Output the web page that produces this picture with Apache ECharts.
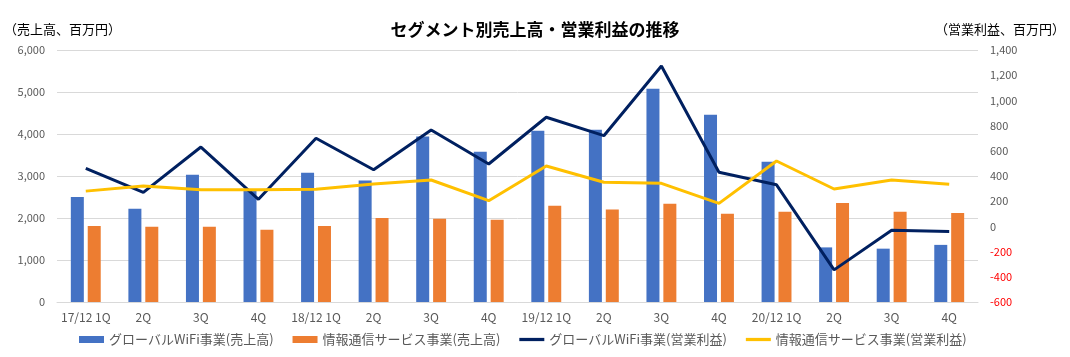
<!DOCTYPE html>
<html><head><meta charset="utf-8">
<script src="https://cdn.jsdelivr.net/npm/echarts@6/dist/echarts.min.js"></script>
<style>html,body{margin:0;padding:0;background:#fff}#c{width:1070px;height:357px}</style>
</head><body><div id="c"></div>
<script>
const categories = ["17/12 1Q","2Q","3Q","4Q","18/12 1Q","2Q","3Q","4Q","19/12 1Q","2Q","3Q","4Q","20/12 1Q","2Q","3Q","4Q"];
const wifiSales = [2500,2220,3030,2650,3080,2890,3940,3580,4080,4100,5080,4460,3340,1300,1270,1360];
const infoSales = [1810,1790,1790,1720,1810,2000,1980,1960,2290,2200,2340,2100,2150,2360,2150,2120];
const wifiProfit = [460,270,630,215,700,450,765,495,866,720,1273,430,330,-345,-30,-40];
const infoProfit = [280,320,290,290,295,336,368,204,479,350,342,183,519,297,368,334];
const seriesNames = ["グローバルWiFi事業(売上高)","情報通信サービス事業(売上高)","グローバルWiFi事業(営業利益)","情報通信サービス事業(営業利益)"];

const FONT = '"Noto Sans CJK JP", "Noto Sans", sans-serif';
const chart = echarts.init(document.getElementById('c'), null, {renderer:'canvas'});
const fmt = v => v.toLocaleString('en-US');
const lineIcon = 'path://M0 0H100V13H0Z';
chart.setOption({
  animation:false,
  textStyle:{fontFamily:FONT},
  title:{text:'セグメント別売上高・営業利益の推移', left:'center', top:16,
    textStyle:{fontFamily:FONT,fontSize:17,fontWeight:'bold',color:'#000'}},
  grid:{left:57,right:92,top:50,bottom:55,containLabel:false},
  legend:{bottom:6,left:74,itemWidth:25,itemHeight:7,itemGap:19,
    textStyle:{fontFamily:FONT,fontSize:13,color:'#595959'},
    data:[{name:seriesNames[0],icon:'rect'},{name:seriesNames[1],icon:'rect'},
          {name:seriesNames[2],icon:lineIcon},{name:seriesNames[3],icon:lineIcon}]},
  xAxis:{type:'category',data:categories,
    axisLine:{lineStyle:{color:'#D9D9D9'}},axisTick:{show:false},
    axisLabel:{color:'#595959',fontSize:12,margin:9,fontFamily:FONT,interval:0}},
  yAxis:[
    {type:'value',min:0,max:6000,interval:1000,name:'（売上高、百万円）',nameLocation:'end',
     nameGap:14,nameTextStyle:{color:'#000',fontSize:13,fontFamily:FONT,align:'left',padding:[0,0,0,-53]},
     axisLine:{show:false},axisTick:{show:false},
     axisLabel:{color:'#595959',fontSize:11,margin:12,formatter:fmt},
     splitLine:{lineStyle:{color:'#D9D9D9',width:1}}},
    {type:'value',min:-600,max:1400,interval:200,name:'（営業利益、百万円）',nameLocation:'end',
     nameGap:14,nameTextStyle:{color:'#000',fontSize:13,fontFamily:FONT,align:'left',padding:[0,0,0,-43]},
     axisLine:{show:false},axisTick:{show:false},splitLine:{show:false},
     axisLabel:{fontSize:11,margin:12,formatter:fmt,
       color:v=> (Number(v)<0?'#FF0000':'#595959')}}
  ],
  series:[
    {name:seriesNames[0],type:'bar',data:wifiSales,barWidth:13,barGap:'30%',itemStyle:{color:'#4472C4'}},
    {name:seriesNames[1],type:'bar',data:infoSales,barWidth:13,barGap:'30%',itemStyle:{color:'#ED7D31'}},
    {name:seriesNames[2],type:'line',yAxisIndex:1,data:wifiProfit,symbol:'none',
     lineStyle:{color:'#002060',width:3},itemStyle:{color:'#002060'}},
    {name:seriesNames[3],type:'line',yAxisIndex:1,data:infoProfit,symbol:'none',
     lineStyle:{color:'#FFC000',width:3},itemStyle:{color:'#FFC000'}}
  ]
});
</script></body></html>
